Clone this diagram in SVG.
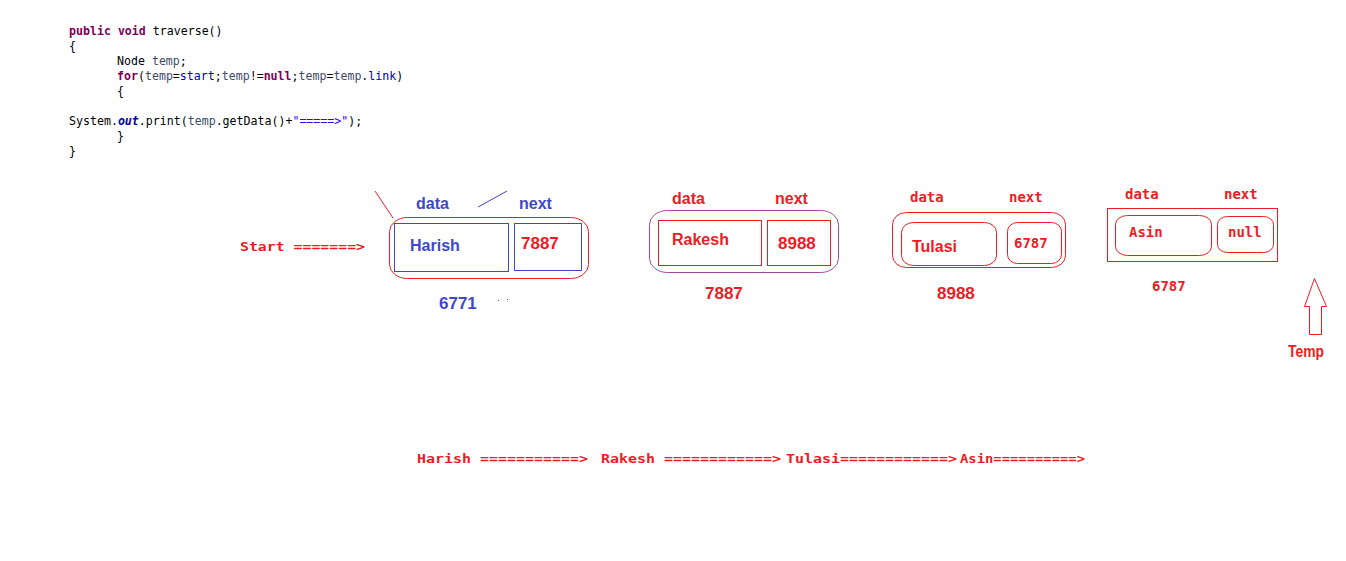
<svg xmlns="http://www.w3.org/2000/svg" width="1346" height="561" viewBox="0 0 1346 561">
<style>
.code{font-family:"DejaVu Sans Mono","Liberation Mono",monospace;font-size:11.6px;fill:#000}
.kw{fill:#7f0055;font-weight:bold}
.var{fill:#3e4a6a}
.fld{fill:#0000c0}
.str{fill:#2a00ff}
.sb{font-family:"Liberation Sans",Arial,sans-serif;font-weight:bold;font-size:16px}
.num{font-family:"Liberation Sans",Arial,sans-serif;font-weight:bold;font-size:17px}
.mono{font-family:"DejaVu Sans Mono","Liberation Mono",monospace;font-weight:bold;font-size:13px}
.lbl{font-size:14px}
.red{fill:#ed1c24}
.blue{fill:#3f48cc}
.rline{fill:none;stroke:#ed1c24;stroke-width:1}
.bline{fill:none;stroke:#3f48cc;stroke-width:1}
.pline{fill:none;stroke:#a349a4;stroke-width:1}
</style>
<rect width="1346" height="561" fill="#fff"/>
<g id="code">
<text class="code" x="69" y="35"><tspan class="kw">public</tspan> <tspan class="kw">void</tspan> traverse()</text>
<text class="code" x="69" y="50">{</text>
<text class="code" x="117" y="65">Node <tspan class="var">temp</tspan>;</text>
<text class="code" x="117" y="80"><tspan class="kw">for</tspan>(<tspan class="var">temp</tspan>=<tspan class="fld">start</tspan>;<tspan class="var">temp</tspan>!=<tspan class="kw">null</tspan>;<tspan class="var">temp</tspan>=<tspan class="var">temp</tspan>.<tspan class="fld">link</tspan>)</text>
<text class="code" x="117" y="95">{</text>
<text class="code" x="69" y="125">System.<tspan class="fld" font-style="italic" font-weight="bold">out</tspan>.print(<tspan class="var">temp</tspan>.getData()+<tspan class="str">"=====&gt;"</tspan>);</text>
<text class="code" x="117" y="140">}</text>
<text class="code" x="69" y="155">}</text>
</g>
<g id="start">
<text class="mono red" x="240" y="251" textLength="125" lengthAdjust="spacingAndGlyphs">Start =======&gt;</text>
</g>
<g id="node1">
<line class="rline" x1="375" y1="191" x2="393" y2="218"/>
<line class="bline" x1="478" y1="207" x2="507" y2="191"/>
<rect class="rline" x="389.5" y="217.5" width="199" height="61" rx="18" ry="14"/>
<rect class="bline" x="394.5" y="223.5" width="114" height="48"/>
<rect class="bline" x="514.5" y="223.5" width="67" height="47"/>
<text class="sb blue" x="416" y="209">data</text>
<text class="sb blue" x="519" y="209">next</text>
<text class="sb blue" x="410" y="251">Harish</text>
<text class="num red" x="521" y="249">7887</text>
<text class="num blue" x="439" y="309">6771</text>
<rect x="498" y="300" width="1" height="1" fill="#ed1c24"/>
<rect x="507" y="299" width="1" height="1" fill="#3f48cc"/>
</g>
<g id="node2">
<rect class="pline" x="649.5" y="210.5" width="189" height="62" rx="18" ry="14"/>
<rect class="rline" x="658.5" y="220.5" width="103" height="45"/>
<rect class="rline" x="767.5" y="220.5" width="63" height="45"/>
<text class="sb red" x="672" y="204">data</text>
<text class="sb red" x="775" y="204">next</text>
<text class="sb red" x="672" y="245">Rakesh</text>
<text class="num red" x="778" y="249">8988</text>
<text class="num red" x="705" y="299">7887</text>
</g>
<g id="node3">
<rect class="rline" x="892.5" y="212.5" width="173" height="55" rx="14" ry="12"/>
<rect class="rline" x="901.5" y="222.5" width="95" height="43" rx="12" ry="10"/>
<rect class="rline" x="1007.5" y="222.5" width="54" height="41" rx="10" ry="9"/>
<text class="mono lbl red" x="910" y="202">data</text>
<text class="mono lbl red" x="1009" y="202">next</text>
<text class="sb red" x="912" y="252">Tulasi</text>
<text class="mono lbl red" x="1014" y="248">6787</text>
<text class="num red" x="937" y="299">8988</text>
</g>
<g id="node4">
<rect class="rline" x="1107.5" y="208.5" width="170" height="53"/>
<rect class="rline" x="1115.5" y="215.5" width="96" height="40" rx="12" ry="9"/>
<rect class="rline" x="1217.5" y="216.5" width="56" height="36" rx="10" ry="8"/>
<text class="mono lbl red" x="1125" y="199">data</text>
<text class="mono lbl red" x="1224" y="199">next</text>
<text class="mono lbl red" x="1129" y="237">Asin</text>
<text class="mono lbl red" x="1228" y="237">null</text>
<text class="mono lbl red" x="1152" y="291">6787</text>
</g>
<g id="temp">
<polygon class="rline" points="1314.5,278.5 1304.5,306.5 1309.5,306.5 1309.5,334.5 1321.5,334.5 1321.5,306.5 1326.5,306.5"/>
<text class="sb red" x="1288" y="357" font-size="14" textLength="36" lengthAdjust="spacingAndGlyphs">Temp</text>
</g>
<g id="output">
<text class="mono red" x="417" y="463" textLength="171" lengthAdjust="spacingAndGlyphs">Harish ===========&gt;</text>
<text class="mono red" x="601" y="463" textLength="180" lengthAdjust="spacingAndGlyphs">Rakesh ============&gt;</text>
<text class="mono red" x="786" y="463" textLength="171" lengthAdjust="spacingAndGlyphs">Tulasi============&gt;</text>
<text class="mono red" x="960" y="463" textLength="125" lengthAdjust="spacingAndGlyphs">Asin==========&gt;</text>
</g>
</svg>
